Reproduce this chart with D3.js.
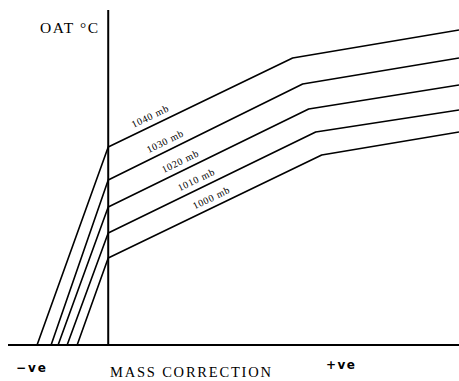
<!DOCTYPE html>
<html>
<head>
<meta charset="utf-8">
<script src="https://cdn.jsdelivr.net/npm/d3@7"></script>
<style>
html,body{margin:0;padding:0;background:#fff;}
svg{display:block;}
</style>
</head>
<body>
<svg id="chart" width="459" height="381"></svg>
<script>
// Pressure series (mb)
const pressures = ["1040 mb", "1030 mb", "1020 mb", "1010 mb", "1000 mb"];
// x where each line meets the base (negative mass correction)
const footX = [-7.1, -5.7, -5.0, -4.1, -3.1];
// OAT value where each line crosses the vertical axis (x = 0)
const axisY = [19.8, 16.5, 13.8, 11.2, 8.7];
// break point of each line
const kinkX = [18.4, 19.4, 20.0, 20.7, 21.3];
const kinkY = [28.7, 26.1, 23.6, 21.3, 19.0];
// value at the right edge
const endX = 35;
const endY = [31.5, 28.7, 26.0, 23.5, 21.3];
// label position along each line (x, data units)
const labelX = [4.6, 6.1, 7.6, 9.2, 10.7];

const svg = d3.select("#chart");
const x = d3.scaleLinear().domain([-10, 35]).range([8, 459]);
const y = d3.scaleLinear().domain([0, 33.5]).range([345, 10]);

// axes (plain lines, no ticks)
svg.append("line")
  .attr("x1", x(-10)).attr("x2", x(35))
  .attr("y1", y(0)).attr("y2", y(0))
  .attr("stroke", "#000").attr("stroke-width", 2);
svg.append("line")
  .attr("x1", x(0)).attr("x2", x(0))
  .attr("y1", y(0)).attr("y2", y(33.5))
  .attr("stroke", "#000").attr("stroke-width", 2);

const line = d3.line().x(d => x(d[0])).y(d => y(d[1]));

pressures.forEach((p, i) => {
  const pts = [[footX[i], 0], [0, axisY[i]], [kinkX[i], kinkY[i]], [endX, endY[i]]];
  svg.append("path")
    .attr("d", line(pts))
    .attr("fill", "none")
    .attr("stroke", "#000")
    .attr("stroke-width", 1.6)
    .attr("stroke-linejoin", "round");

  // label along middle segment
  const x0 = x(0), y0 = y(axisY[i]), x1 = x(kinkX[i]), y1 = y(kinkY[i]);
  const ang = Math.atan2(y1 - y0, x1 - x0);
  const lx = x(labelX[i]);
  const t = (lx - x0) / (x1 - x0);
  const ly = y0 + t * (y1 - y0);
  svg.append("text")
    .attr("transform", `translate(${lx},${ly}) rotate(${ang * 180 / Math.PI}) translate(0,-6)`)
    .attr("text-anchor", "middle")
    .attr("font-family", "Liberation Serif, serif")
    .attr("font-size", 10)
    .attr("letter-spacing", 0.7)
    .text(p);
});

svg.append("text")
  .attr("x", 40).attr("y", 33)
  .attr("font-family", "Liberation Serif, serif")
  .attr("font-size", 15.5)
  .attr("textLength", 58).attr("lengthAdjust", "spacing")
  .text("OAT  \u00B0C");

svg.append("text")
  .attr("x", 110).attr("y", 377)
  .attr("font-family", "Liberation Serif, serif")
  .attr("font-size", 14.5)
  .attr("textLength", 161).attr("lengthAdjust", "spacing")
  .text("MASS CORRECTION");

svg.append("text")
  .attr("x", 16).attr("y", 372)
  .attr("font-family", "DejaVu Sans, sans-serif")
  .attr("font-weight", "bold")
  .attr("font-size", 12)
  .attr("textLength", 30).attr("lengthAdjust", "spacing")
  .text("\u2212ve");

svg.append("text")
  .attr("x", 326).attr("y", 369)
  .attr("font-family", "DejaVu Sans, sans-serif")
  .attr("font-weight", "bold")
  .attr("font-size", 12)
  .attr("textLength", 29).attr("lengthAdjust", "spacing")
  .text("+ve");
</script>
</body>
</html>
